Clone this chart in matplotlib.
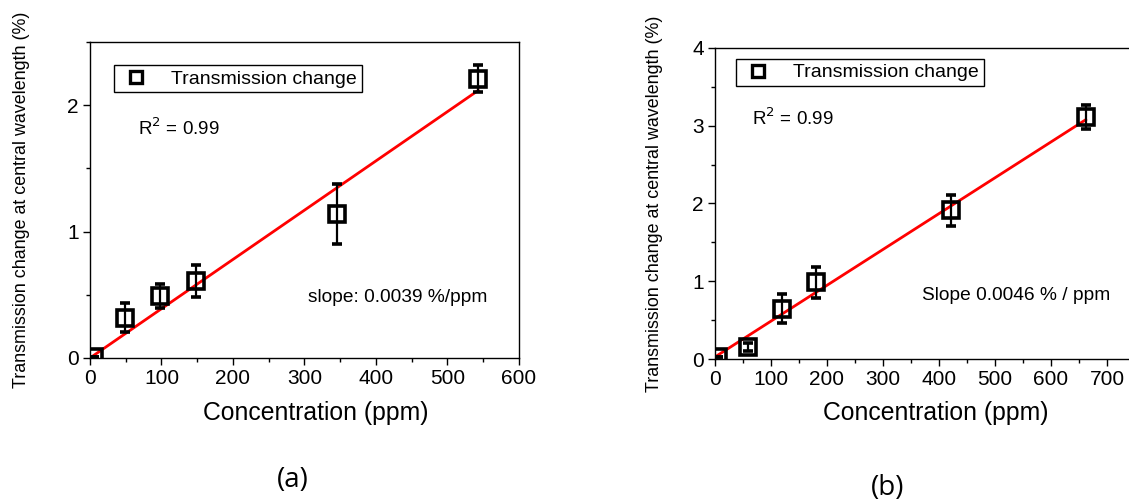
import numpy as np
import matplotlib
matplotlib.use("Agg")
import matplotlib.pyplot as plt
from matplotlib.ticker import MultipleLocator
from matplotlib.lines import Line2D

plt.rcParams['font.family'] = ['Liberation Sans', 'DejaVu Sans']

# ---------------- data (a) ---------------- #
conc_a = [5, 49, 98, 148, 345, 543]
trans_a = [0.01, 0.32, 0.49, 0.61, 1.14, 2.21]
err_a = [0.0, 0.115, 0.095, 0.125, 0.235, 0.105]
slope_a, icpt_a = 0.0039, 0.0

# ---------------- data (b) ---------------- #
conc_b = [5, 59, 120, 180, 422, 662]
trans_b = [0.03, 0.155, 0.65, 0.99, 1.915, 3.11]
err_b = [0.0, 0.05, 0.19, 0.2, 0.2, 0.16]
slope_b, icpt_b = 0.0046, 0.03

fig = plt.figure(figsize=(11.29, 5.03), dpi=100)
ax1 = fig.add_axes([0.0797, 0.2883, 0.38, 0.628])
ax2 = fig.add_axes([0.6333, 0.2857, 0.372, 0.6195])


def draw_panel(ax, x, y, e, slope, icpt, xlim, ylim, xmaj, ymaj,
               leg_anchor, r2_pos, slope_pos, slope_text, ylab_x):
    x = np.array(x)
    xf = np.array([0, x.max()])
    ax.plot(xf, slope * xf + icpt, color='red', lw=2.0, zorder=2)
    ax.errorbar(x, y, yerr=e, fmt='s', ms=11, mfc='none', mec='black',
                mew=2.6, ecolor='black', elinewidth=1.6, capsize=3.5,
                capthick=1.6, zorder=3)
    ax.set_xlim(*xlim)
    ax.set_ylim(*ylim)
    ax.xaxis.set_major_locator(MultipleLocator(xmaj))
    ax.xaxis.set_minor_locator(MultipleLocator(xmaj / 2))
    ax.yaxis.set_major_locator(MultipleLocator(ymaj))
    ax.yaxis.set_minor_locator(MultipleLocator(ymaj / 2))
    ax.tick_params(which='major', direction='out', length=5, width=1,
                   labelsize=15, pad=3)
    ax.tick_params(which='minor', direction='out', length=3, width=1)
    for s in ax.spines.values():
        s.set_linewidth(1.0)
    ax.set_xlabel('Concentration (ppm)', fontsize=17.8)
    ax.xaxis.set_label_coords(0.526, -0.135)
    ax.set_ylabel('Transmission change at central wavelength (%)',
                  fontsize=12.9)
    ax.yaxis.set_label_coords(ylab_x, 0.5)
    handle = Line2D([], [], ls='none', marker='s', ms=9, mfc='none',
                    mec='black', mew=2.4)
    leg = ax.legend([handle], ['Transmission change'], loc='upper left',
                    bbox_to_anchor=leg_anchor, borderaxespad=0,
                    fancybox=False, edgecolor='black', framealpha=1,
                    fontsize=14, handlelength=1.8, handletextpad=0.9,
                    borderpad=0.25, numpoints=1)
    leg.get_frame().set_linewidth(1.0)
    ax.text(r2_pos[0], r2_pos[1], 'R$^2$ = 0.99', transform=ax.transAxes,
            fontsize=13.5, va='center', ha='left')
    ax.text(slope_pos[0], slope_pos[1], slope_text, transform=ax.transAxes,
            fontsize=13.8, va='center', ha='left')


draw_panel(ax1, conc_a, trans_a, err_a, slope_a, icpt_a, (0, 600), (0, 2.5),
           100, 1, (0.056, 0.927), (0.112, 0.728), (0.508, 0.193),
           'slope: 0.0039 %/ppm', -0.14)
draw_panel(ax2, conc_b, trans_b, err_b, slope_b, icpt_b, (0, 750), (0, 4),
           100, 1, (0.05, 0.964), (0.088, 0.774), (0.494, 0.206),
           'Slope 0.0046 % / ppm', -0.124)

fig.text(293 / 1129, 1 - 480 / 503, '(a)', fontsize=20, ha='center',
         va='center', family=['Open Sans', 'DejaVu Sans'])
fig.text(888 / 1129, 1 - 488 / 503, '(b)', fontsize=20, ha='center',
         va='center', family=['Open Sans', 'DejaVu Sans'])

fig.savefig('out.png', dpi=100)
